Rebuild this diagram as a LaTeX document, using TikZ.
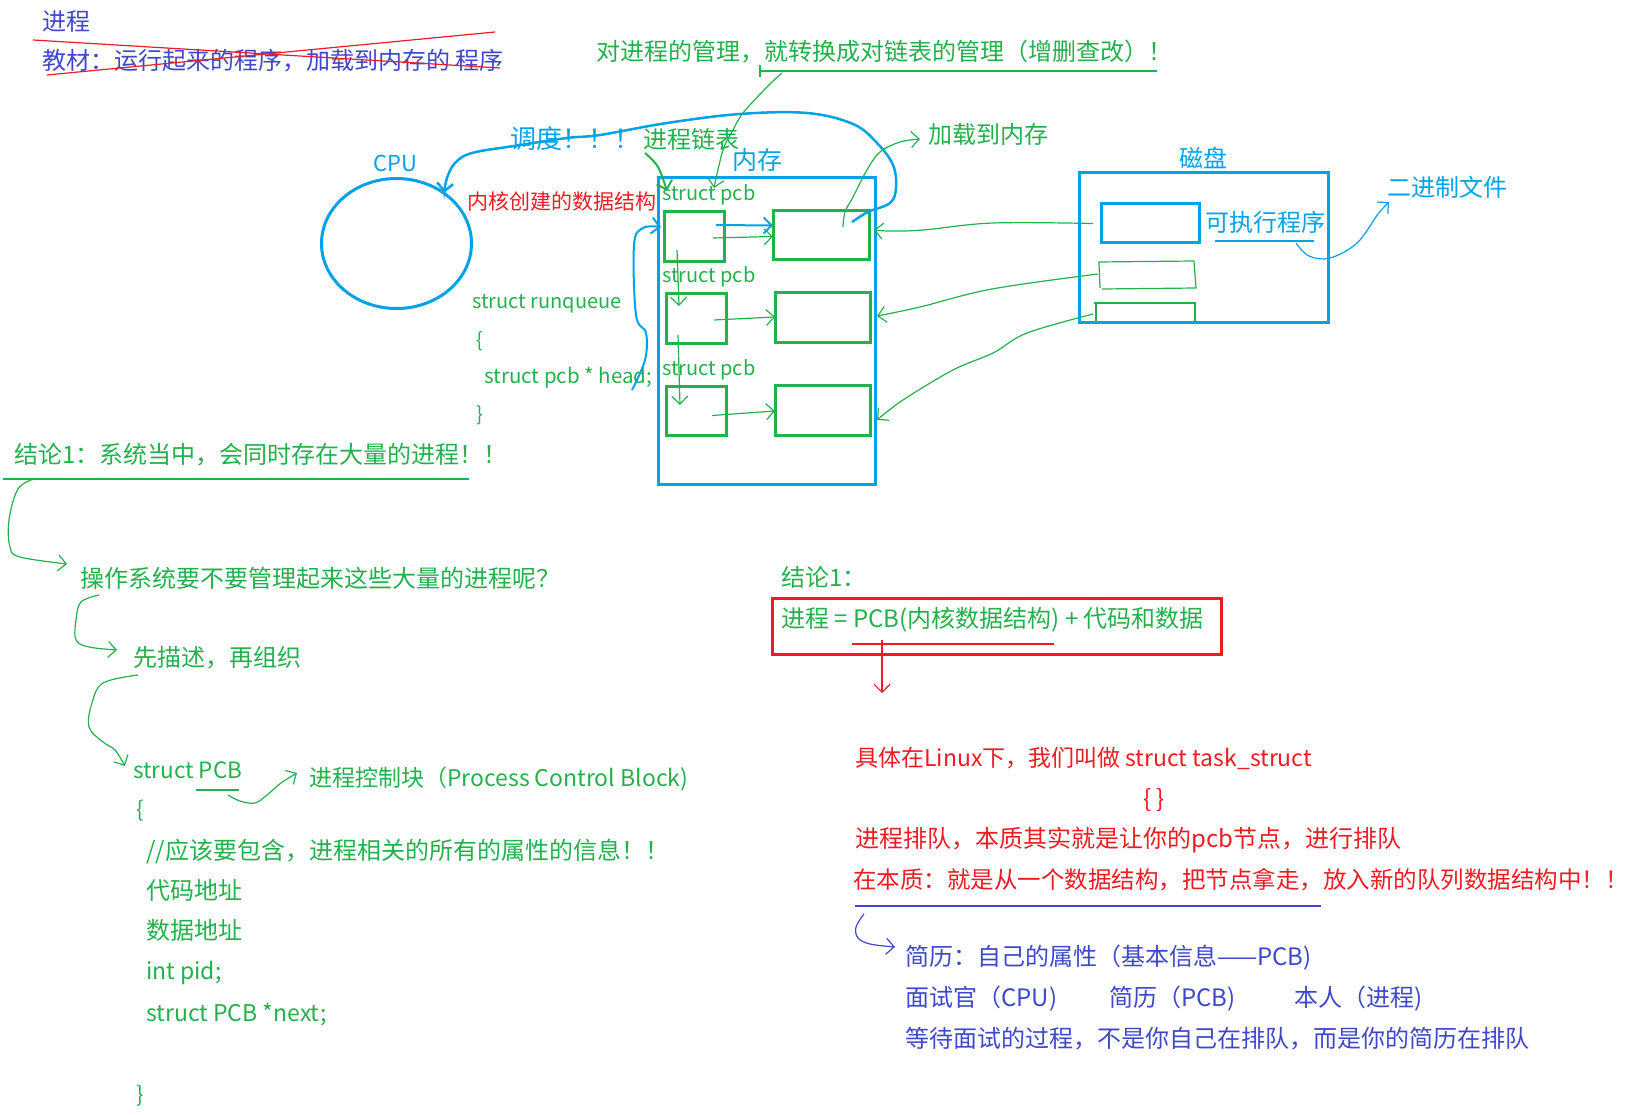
\documentclass[tikz,border=0pt]{standalone}
\usepackage{fontspec}
\setmainfont{Noto Sans CJK SC}
\usetikzlibrary{arrows.meta,shapes.geometric}
\definecolor{tgreen}{RGB}{34,177,76}
\definecolor{tcyan}{RGB}{0,162,232}
\definecolor{tred}{RGB}{237,28,36}
\definecolor{tpurple}{RGB}{63,72,204}
\begin{document}
\begin{tikzpicture}[x=1pt,y=-1pt,
  txt/.style={inner sep=0pt, anchor=west, font=\fontsize{24}{28}\selectfont},
  code/.style={inner sep=0pt, anchor=west, font=\fontsize{20}{25}\selectfont},
  rect/.style={draw, inner sep=0pt, outer sep=0pt, line width=3pt},
  gbox/.style={rect, draw=tgreen, minimum width=60pt, minimum height=50pt},
  rbox/.style={rect, draw=tgreen, minimum width=96pt, minimum height=50pt},
  thinline/.style={line width=1.2pt},
  hb/.style={-{Straight Barb[length=8pt,width=16pt]}},
  smoothline/.style={smooth, tension=0.6},
]
\fill[white] (0,0) rectangle (1640,1115);
\useasboundingbox (0,0) rectangle (1640,1115);

% ---------- top left ----------
\node[txt,text=tpurple] (jc) at (42,22) {进程};
\node[txt,text=tpurple] (jcdef) at (42,61) {教材：运行起来的程序，加载到内存的 程序};
\coordinate (sa1) at (33,40); \coordinate (sa2) at (500,68);
\coordinate (sb1) at (47,75); \coordinate (sb2) at (495,32);
\draw[tred,thinline] (sa1) -- (sa2);
\draw[tred,thinline] (sb1) -- (sb2);

% ---------- title ----------
\node[txt,text=tgreen] (title) at (596,52) {对进程的管理，就转换成对链表的管理（增删查改）！};
\coordinate (ul1) at (760,71); \coordinate (ul2) at (1157,71);
\draw[tgreen,thinline] (ul1) -- (ul2);
\draw[tgreen,thinline] (760,65) -- (760,77);

% ---------- CPU ----------
\node[draw=tcyan,line width=3pt,ellipse,minimum width=150pt,minimum height=130pt,inner sep=0pt] (cpu) at (396.5,243.5) {};
\node[txt,text=tcyan,anchor=center,font=\fontsize{22}{26}\selectfont] (cpulbl) at (395,163) {CPU};
\node[txt,text=tcyan,font=\fontsize{26}{30}\selectfont] (dd) at (510,139) {调度！！！};
\node[txt,text=tgreen] (lb) at (643,139) {进程链表};
\node[txt,text=tred,font=\fontsize{21}{25}\selectfont] (kds) at (467,202) {内核创建的数据结构};

% ---------- memory ----------
\node[rect,draw=tcyan,minimum width=217pt,minimum height=306pt] (mem) at (766.5,331) {};
\node[txt,text=tcyan,anchor=center,font=\fontsize{25}{30}\selectfont] (memlbl) at (757,160) {内存};
\node[gbox] (L1) at (694,237) {};
\node[gbox] (L2) at (696,318) {};
\node[gbox,minimum height=49pt] (L3) at (696,410.5) {};
\node[rbox,minimum height=49pt] (R1) at (821,235.5) {};
\node[rbox,minimum width=95pt] (R2) at (822.5,317) {};
\node[rbox,minimum width=95pt] (R3) at (822.5,410) {};
\node[code,text=tgreen] (p1) at (662,195) {struct pcb};
\node[code,text=tgreen] (p2) at (662,277) {struct pcb};
\node[code,text=tgreen] (p3) at (662,370) {struct pcb};

\draw[tgreen,thinline,hb] ([xshift=-11pt,yshift=-1pt]L1.east) -- ([yshift=-1pt]R1.west);
\draw[tcyan,line width=2pt,hb] ([xshift=-8pt,yshift=12pt]L1.east) -- ([yshift=10pt]R1.west);
\draw[tgreen,thinline,hb] ([xshift=-12pt,yshift=-2pt]L2.east) -- (R2.west);
\draw[tgreen,thinline,hb] ([xshift=-14pt,yshift=-5pt]L3.east) -- ([yshift=-1pt]R3.west);
\draw[tgreen,thinline,hb] ([xshift=-17pt,yshift=-13pt]L1.center) -- (679,306);
\draw[tgreen,thinline,hb] ([xshift=-18pt,yshift=-17pt]L2.center) -- (680,405);

% runqueue
\node[code,text=tgreen] (rq) at (472,304) {struct runqueue};
\node[code,text=tgreen] (rqo) at (476,341) {\{};
\node[code,text=tgreen,font=\fontsize{20.5}{25}\selectfont] (rqh) at (484,378) {struct pcb * head;};
\node[code,text=tgreen] (rqc) at (476,415) {\}};
\coordinate (hs) at (632,390);
\draw[tcyan,line width=2pt,hb] plot[smoothline] coordinates {(hs) (645,360) (646,333) (636,315) (634,245) (643,228) ([xshift=-3pt,yshift=10pt]L1.west)};

% big scheduling curve
\coordinate (ds) at (852,222);
\coordinate (dcpu) at (444,193);
\draw[tcyan,line width=2.5pt,hb] plot[smoothline] coordinates {(ds) (868,212) (890,203) (896,188) (893,165) (877,143) (853,124) (807,113) (740,114) (667,123) (600,135) (567,138) (514,146) (472,153) (455,163) (447,178) (dcpu)};

% linked list arrow
\draw[tgreen,line width=2pt,hb] plot[smoothline] coordinates {(645,153) (658,167) (667,191)};
% title -> struct pcb
\draw[tgreen,thinline,hb] plot[smoothline] coordinates {(782,73) (767,87) (743,113) (733,130) (723,150) (714,188)};

% load to memory
\node[txt,text=tgreen] (load) at (928,134) {加载到内存};
\draw[tgreen,thinline,hb] plot[smoothline] coordinates {(843,227) (845,212) (853,197) (867,170) (880,152) (900,142) ([xshift=-8pt,yshift=-5pt]load.west)};

% ---------- disk ----------
\node[rect,draw=tcyan,minimum width=249pt,minimum height=149pt] (disk) at (1203.5,247.5) {};
\node[txt,text=tcyan,anchor=center] (disklbl) at (1203,158) {磁盘};
\node[rect,draw=tcyan,minimum width=98pt,minimum height=39pt] (exe) at (1150,223.5) {};
\node[txt,text=tcyan] (exelbl) at (1205,222) {可执行程序};
\node[txt,text=tcyan] (bin) at (1387,187) {二进制文件};
\draw[tcyan,thinline] (1215,241) -- (1314,241);
\draw[tcyan,thinline,hb] plot[smoothline] coordinates {(1296,243) (1309,256) (1330,258) (1357,243) (1378,214) (1389,202)};
\draw[tgreen,thinline] (1098,262) -- (1194,261) -- (1196,288) -- (1102,289) (1100,288) -- (1099,263);
\draw[tgreen,thinline] (1094,303) -- (1195,303) -- (1195,322) (1096,303) -- (1096,322);

% disk -> memory
\draw[tgreen,thinline,hb] plot[smoothline] coordinates {([xshift=-8pt]exe.west) (993,223) (923,230) (890,231) (874,230)};
\draw[tgreen,thinline,hb] plot[smoothline] coordinates {(1098,274) (992,289) (920,307) (877,316)};
\draw[tgreen,thinline,hb] plot[smoothline] coordinates {(1093,314) (1027,333) (993,353) (953,370) (903,400) (877,420)};

% ---------- lower left ----------
\node[txt,text=tgreen] (c1) at (14,455) {结论1：系统当中，会同时存在大量的进程！！};
\draw[tgreen,thinline] (3,479) -- (469,479);
\node[txt,text=tgreen] (q) at (80,578) {操作系统要不要管理起来这些大量的进程呢？};
\draw[tgreen,thinline,hb] plot[smoothline] coordinates {(34,479) (18,489) (9,520) (10,547) (20,557) ([xshift=-13pt,yshift=14pt]q.west)};
\node[txt,text=tgreen] (xm) at (133,658) {先描述，再组织};
\draw[tgreen,thinline,hb] plot[smoothline] coordinates {(99,595) (81,602) (76,620) (76,640) (89,647) ([xshift=-16pt,yshift=8pt]xm.west)};
\node[code,text=tgreen,font=\fontsize{22.5}{26}\selectfont] (spcb) at (133,770) {struct PCB};
\draw[tgreen,thinline,hb] plot[smoothline] coordinates {(138,675) (103,683) (92,703) (89,727) (103,742) (115,750) (125,766)};
\draw[tgreen,thinline] (196,790) -- (239,790);
\node[txt,text=tgreen,font=\fontsize{23}{28}\selectfont] (pcbname) at (309,779) {进程控制块（Process Control Block)};
\draw[tgreen,thinline,hb] plot[smoothline] coordinates {(228,795) (240,801) (255,803) (267,795) (281,783) (297,773)};
\node[code,text=tgreen,font=\fontsize{22}{26}\selectfont] (bo) at (136,811) {\{};
\node[txt,text=tgreen] (cm) at (146,851) {//应该要包含，进程相关的所有的属性的信息！！};
\node[txt,text=tgreen] (ca) at (146,890) {代码地址};
\node[txt,text=tgreen] (da) at (146,930) {数据地址};
\node[code,text=tgreen,font=\fontsize{23}{26}\selectfont] (pid) at (146,973) {int pid;};
\node[code,text=tgreen,font=\fontsize{23}{26}\selectfont] (nx) at (146,1015) {struct PCB *next;};
\node[code,text=tgreen,font=\fontsize{22}{26}\selectfont] (bc) at (136,1096) {\}};

% ---------- right lower ----------
\node[txt,text=tgreen] (c2) at (781,577) {结论1：};
\node[rect,draw=tred,minimum width=449pt,minimum height=56pt] (rb) at (996.5,626) {};
\node[txt,text=tgreen] (eq) at (781,620) {进程 = PCB(内核数据结构) + 代码和数据};
\draw[tred,thinline] (852,644) -- (1054,644);
\node[txt,text=tred,font=\fontsize{23}{28}\selectfont] (lx) at (855,758) {具体在Linux下，我们叫做 struct task\_struct};
\draw[tred,thinline,hb] (882,640) -- ([xshift=27pt,yshift=65pt]lx.west);
\node[txt,text=tred,anchor=center] (br) at (1154,800) {\{ \}};
\node[txt,text=tred] (r1) at (855,840) {进程排队，本质其实就是让你的pcb节点，进行排队};
\node[txt,text=tred,font=\fontsize{23.5}{28}\selectfont] (r2) at (853,880) {在本质：就是从一个数据结构，把节点拿走，放入新的队列数据结构中！！};
\draw[tpurple,thinline] (855,906) -- (1321,906);
\node[txt,text=tpurple] (jl) at (905,958) {简历：自己的属性（基本信息——PCB)};
\draw[tpurple,thinline,hb] plot[smoothline] coordinates {(864,914) (856,927) (858,938) (870,944) ([xshift=-10pt,yshift=11pt]jl.west)};
\node[txt,text=tpurple] (ms1) at (905,999) {面试官（CPU)};
\node[txt,text=tpurple] (ms2) at (1109,999) {简历（PCB)};
\node[txt,text=tpurple] (ms3) at (1294,999) {本人（进程)};
\node[txt,text=tpurple] (wait) at (905,1039) {等待面试的过程，不是你自己在排队，而是你的简历在排队};
\end{tikzpicture}
\end{document}
